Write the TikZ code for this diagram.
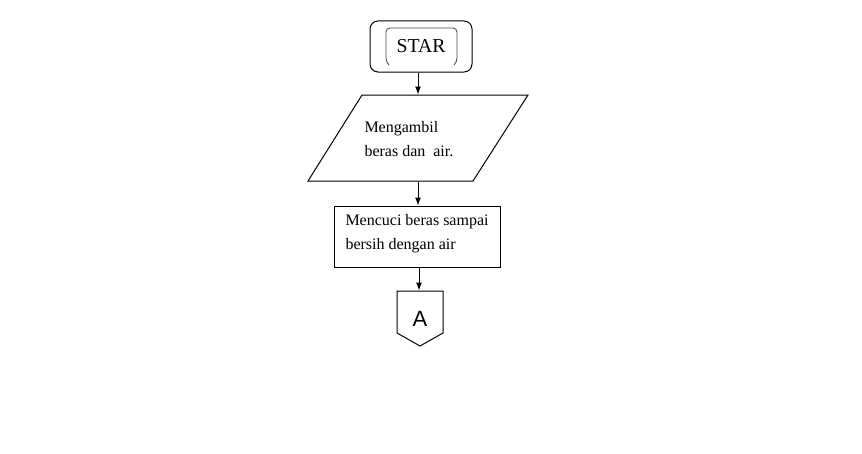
\documentclass[tikz,border=0pt]{standalone}
\usepackage{fontspec}
\setmainfont{Liberation Serif}
\newfontfamily\arialfont{Liberation Sans}
\usetikzlibrary{arrows.meta,calc}
\begin{document}
\begin{tikzpicture}[x=0.75pt,y=-0.75pt,
  line width=0.75pt,
  arr/.style={-{Latex[length=6pt,width=4.5pt]}},
  txt/.style={inner sep=0pt,align=left,font=\fontsize{12}{17.5}\selectfont},
  box/.style={draw,inner sep=0pt},
  ghost/.style={inner sep=0pt}]
\path[use as bounding box,fill=white] (0,0) rectangle (862,453);
% start terminal
\node[box,rounded corners=6pt,minimum width=76.5pt,minimum height=38.25pt,
  font=\fontsize{14.8}{16}\selectfont] (star) at (421,46.5) {STAR};
\draw[black!70,line width=0.65pt,rounded corners=3pt]
  (389,65) -- (386,62) -- (386,28) -- (457,28) -- (457,62) -- (454,65);
% input parallelogram
\node[ghost,minimum width=120pt,minimum height=64.5pt] (par) at (418,138) {};
\draw (308,181) -- (362,95) -- (528,95) -- (473,181) -- cycle;
\node[txt,anchor=north west] (partext) at (364,121.2) {Mengambil\\beras dan\ \ air.};
% process
\node[box,minimum width=124.5pt,minimum height=45.75pt] (proc) at (417,236.5) {};
\node[txt,anchor=north west] (proctext) at (345,214.2) {Mencuci beras sampai\\bersih dengan air};
% off-page connector
\node[ghost,minimum width=34.5pt,minimum height=41.25pt,
  font=\arialfont\fontsize{16.5}{18}\selectfont] (pent) at (420,318.5) {A};
\draw (397,291) -- (443,291) -- (443,333) -- (420,346) -- (397,333) -- cycle;
% connectors
\draw[arr] (star.south -| par.north) -- (par.north);
\draw[arr] (par.south) -- (par.south |- proc.north);
\draw[arr] (proc.south -| 419,0) -- (pent.north -| 419,0);
\end{tikzpicture}
\end{document}
